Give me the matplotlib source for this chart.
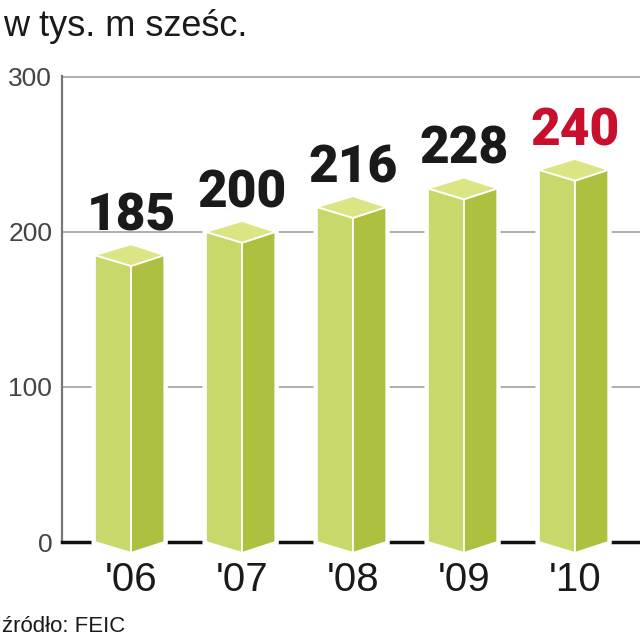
import matplotlib.pyplot as plt
from matplotlib.patches import Polygon

# dane
lata = ["'06", "'07", "'08", "'09", "'10"]
wartosci = [185, 200, 216, 228, 240]
kolory_etykiet = ["#1a1a1a", "#1a1a1a", "#1a1a1a", "#1a1a1a", "#c8102e"]
osie_y = [0, 100, 200, 300]

kolor_lewy = "#c8d86a"
kolor_prawy = "#afc040"
kolor_gora = "#dbe584"

fig = plt.figure(figsize=(6.4, 6.4), dpi=100)
ax = fig.add_axes([62 / 640, 98 / 640, 578 / 640, 466 / 640])
ax.set_xlim(-0.622, 4.586)
ax.set_ylim(0, 300.5)

for s in ["top", "right"]:
    ax.spines[s].set_visible(False)
ax.spines["left"].set_color("#777777")
ax.spines["left"].set_linewidth(1.6)
ax.spines["bottom"].set_color("#111111")
ax.spines["bottom"].set_linewidth(2.5)

ax.set_yticks(osie_y)
ax.set_yticklabels([str(v) for v in osie_y], fontsize=19, color="#444444",
                   family=["Liberation Sans", "DejaVu Sans"])
ax.yaxis.grid(True, color="#999999", linewidth=1.1)
ax.set_axisbelow(True)
ax.tick_params(axis="y", length=0, pad=7)

ax.set_xticks(range(len(lata)))
ax.set_xticklabels(lata, fontsize=29, color="#1a1a1a",
                   family=["Liberation Sans", "DejaVu Sans"])
ax.tick_params(axis="x", length=0, pad=14)

wl = 0.325   # polowa szerokosci - lewa sciana
wp = 0.30    # prawa sciana
d = 7        # glebokosc w jednostkach osi y

for i, v in enumerate(wartosci):
    lewa = [(i - wl, 0), (i, -d), (i, v - d), (i - wl, v)]
    prawa = [(i, -d), (i + wp, 0), (i + wp, v), (i, v - d)]
    gora = [(i - wl, v), (i, v - d), (i + wp, v), (i, v + d)]
    obrys = [(i - wl, 0), (i, -d), (i + wp, 0), (i + wp, v), (i, v + d), (i - wl, v)]
    ax.add_patch(Polygon(obrys, closed=True, facecolor="white", edgecolor="white",
                         linewidth=5, zorder=3, clip_on=False))
    for pts, c in [(lewa, kolor_lewy), (prawa, kolor_prawy), (gora, kolor_gora)]:
        ax.add_patch(Polygon(pts, closed=True, facecolor=c, edgecolor="white",
                             linewidth=1.3, zorder=4, clip_on=False))
    ax.text(i, v + 16, str(v), ha="center", va="baseline", fontsize=37,
            fontweight="black", color=kolory_etykiet[i], family=["Roboto", "DejaVu Sans"],
            zorder=5)

fig.text(3 / 640, 1 - 36 / 640, "w tys. m sześc.", fontsize=26, color="#1a1a1a",
         family=["Liberation Sans", "DejaVu Sans"], va="baseline")
fig.text(2 / 640, 1 - 632 / 640, "źródło: FEIC", fontsize=16, color="#1a1a1a",
         family=["Liberation Sans", "DejaVu Sans"], va="baseline")

fig.savefig("out.png", dpi=100)
